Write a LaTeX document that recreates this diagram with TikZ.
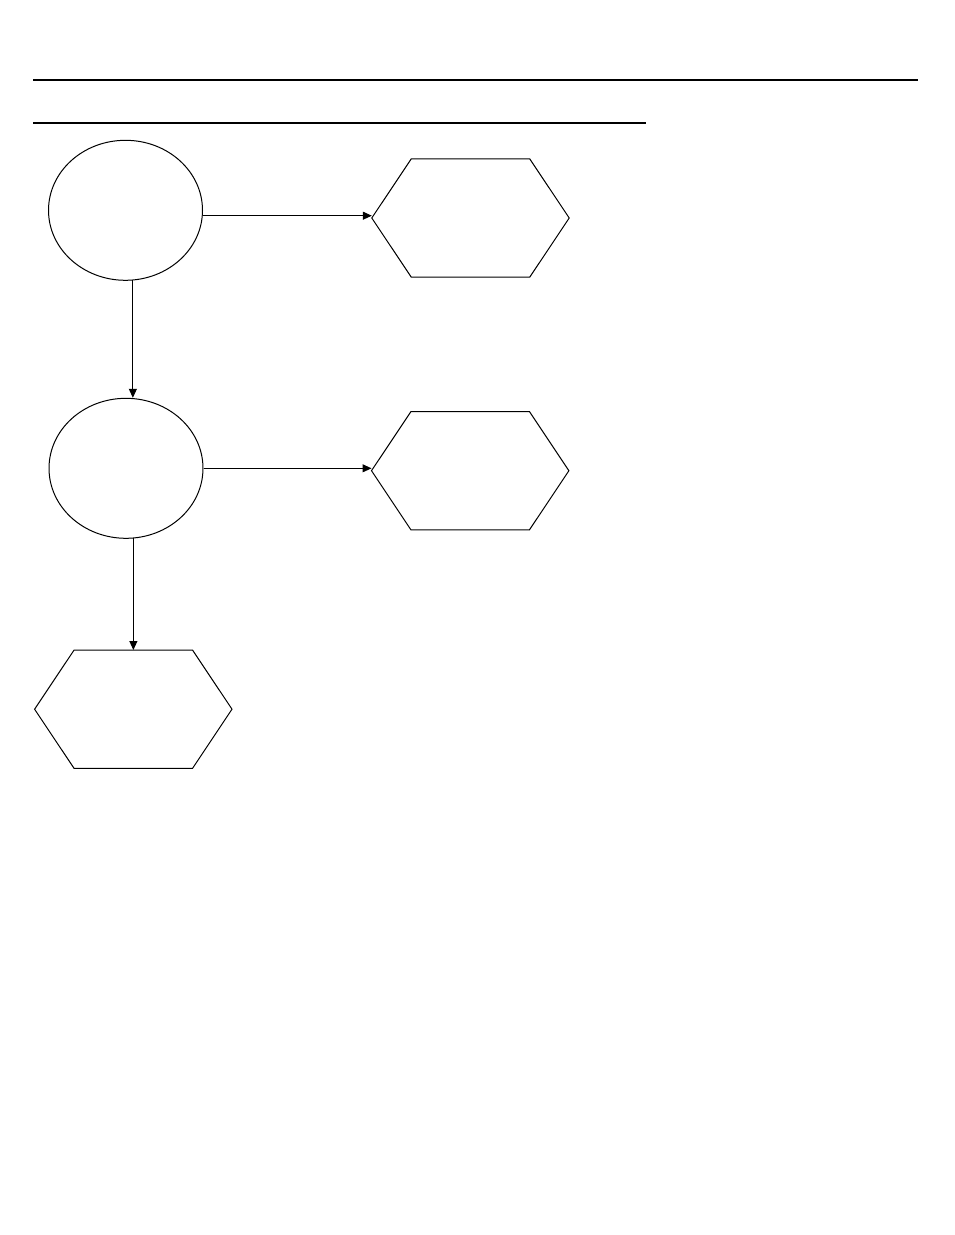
\documentclass[tikz,border=0pt]{standalone}
\usetikzlibrary{shapes.geometric,arrows.meta}
\tikzset{
  ell/.style={draw, ellipse, line width=1pt, minimum width=154pt, minimum height=140pt, inner sep=0pt},
  hexbox/.style={rectangle, minimum width=197pt, minimum height=118pt, inner sep=0pt},
  hexline/.style={draw, line width=1pt, line join=miter},
  arr/.style={line width=1pt, -{Triangle[length=9pt,width=8pt]}},
  rule/.style={line width=2.6pt}
}
\newcommand{\hexdraw}[1]{%
  \draw[hexline] (#1.west) -- ([xshift=39.5pt]#1.north west) -- ([xshift=-39.5pt]#1.north east)
    -- (#1.east) -- ([xshift=-39.5pt]#1.south east) -- ([xshift=39.5pt]#1.south west) -- cycle;}
\begin{document}
\begin{tikzpicture}[x=1pt,y=-1pt]
\useasboundingbox (0,0) rectangle (954,1235);
% rules
\coordinate (r1a) at (33,80);
\coordinate (r1b) at (918,80);
\coordinate (r2a) at (33,123);
\coordinate (r2b) at (646,123);
\draw[rule] (r1a) -- (r1b);
\draw[rule] (r2a) -- (r2b);
% nodes
\node[ell] (e1) at (125.5,210.3) {};
\node[ell] (e2) at (126,468.3) {};
\node[hexbox] (h1) at (470.5,218) {};
\node[hexbox] (h2) at (470.2,470.7) {};
\node[hexbox] (h3) at (133.3,709.2) {};
\hexdraw{h1}
\hexdraw{h2}
\hexdraw{h3}
% connectors
\draw[arr] (e1.-4.5) -- (e1.-4.5 -| h1.west);
\draw[arr] (e1.-84) -- (e1.-84 |- e2.north);
\draw[arr] (e2.east) -- (e2.east -| h2.west);
\draw[arr] (e2.-84) -- (e2.-84 |- h3.north);
\end{tikzpicture}
\end{document}
